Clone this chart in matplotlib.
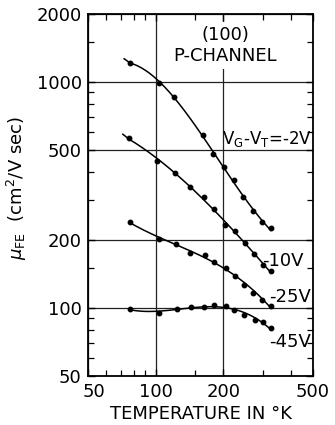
import numpy as np
import matplotlib
matplotlib.use("Agg")
import matplotlib.pyplot as plt
from matplotlib.ticker import FixedLocator, FixedFormatter, LogLocator, NullFormatter
from matplotlib.transforms import ScaledTranslation

plt.rcParams["font.family"] = ["DejaVu Sans"]
plt.rcParams["mathtext.fontset"] = "dejavusans"

# Field-effect mobility vs temperature, (100) p-channel, for several gate overdrives
temp_2v = [77, 103, 121, 162, 180, 201, 223, 244, 270, 296, 325]
mu_2v = [1220, 990, 860, 580, 482, 421, 368, 311, 268, 241, 225]

temp_10v = [76, 101, 122, 142, 164, 182, 203, 224, 249, 273, 300, 325]
mu_10v = [564, 449, 397, 342, 310, 275, 234, 219, 193, 173, 155, 146]

temp_25v = [77, 103, 123, 142, 166, 182, 206, 224, 248, 271, 298, 325]
mu_25v = [240, 202, 191, 176, 172, 160, 150, 139, 127, 117, 108.6, 102.4]

temp_45v = [77, 103, 124, 143, 164, 182, 206, 223, 248, 276, 300, 325]
mu_45v = [99, 94.6, 98.8, 100.6, 101.3, 102.8, 102.5, 98, 93, 88.5, 86.3, 81.4]

series_labels = ["-2V", "-10V", "-25V", "-45V"]

x_ticks = [50, 100, 200, 500]
x_tick_labels = ["50", "100", "200", "500"]
y_ticks = [50, 100, 200, 500, 1000, 2000]
y_tick_labels = ["50", "100", "200", "500", "1000", "2000"]

FS = 13

fig = plt.figure(figsize=(3.35, 4.25), dpi=100)
ax = fig.add_axes([88 / 335, 1 - 376 / 425, 225 / 335, 362 / 425])
ax.set_xscale("log")
ax.set_yscale("log")
ax.set_xlim(50, 500)
ax.set_ylim(50, 2000)

# smooth curves: cubic fit in log-log space, with a short straight lead-in
lead_in = [0.94, 0.94, 1.0, 1.0]
all_series = [(temp_2v, mu_2v), (temp_10v, mu_10v), (temp_25v, mu_25v), (temp_45v, mu_45v)]
for (t, m), s in zip(all_series, lead_in):
    lt, lm = np.log10(t), np.log10(m)
    coef = np.polyfit(lt, lm, 3)
    tt = np.linspace(lt[0], lt[-1], 200)
    yy = np.polyval(coef, tt)
    if s < 1.0:
        slope = (lm[1] - lm[0]) / (lt[1] - lt[0])
        t0 = lt[0] + np.log10(s)
        tt = np.concatenate([[t0], tt])
        yy = np.concatenate([[yy[0] + slope * (t0 - lt[0])], yy])
    ax.plot(10 ** tt, 10 ** yy, color="black", lw=1.1, zorder=3)
    ax.plot(t, m, "o", color="black", ms=3.2, zorder=4)

ax.xaxis.set_major_locator(FixedLocator(x_ticks))
ax.xaxis.set_major_formatter(FixedFormatter(x_tick_labels))
ax.yaxis.set_major_locator(FixedLocator(y_ticks))
ax.yaxis.set_major_formatter(FixedFormatter(y_tick_labels))
subs = [1.5, 3, 4, 6, 7, 8, 9]
ax.xaxis.set_minor_locator(LogLocator(base=10, subs=subs))
ax.yaxis.set_minor_locator(LogLocator(base=10, subs=subs))
ax.xaxis.set_minor_formatter(NullFormatter())
ax.yaxis.set_minor_formatter(NullFormatter())

ax.tick_params(which="both", direction="in", top=True, right=True,
               color="black", labelsize=FS)
ax.tick_params(which="major", length=5, width=1.0)
ax.tick_params(which="minor", length=4, width=0.9)
ax.tick_params(axis="x", pad=5)
ax.tick_params(axis="y", pad=4.5)

ax.grid(True, which="major", color="#222222", lw=0.9, zorder=1)
for sp in ax.spines.values():
    sp.set_linewidth(1.3)
    sp.set_color("black")

# nudge the leftmost x label off the corner
fig.canvas.draw()
lbl = ax.get_xticklabels()[0]
lbl.set_transform(lbl.get_transform() + ScaledTranslation(6 / 100, 0, fig.dpi_scale_trans))

ax.text(0.61, 0.913, "(100)\nP-CHANNEL", transform=ax.transAxes,
        ha="center", va="center", fontsize=FS, linespacing=1.2,
        bbox=dict(facecolor="white", edgecolor="none", pad=3), zorder=5)

ax.text(0.995, 0.655, "V$_\\mathregular{G}$-V$_\\mathregular{T}$=-2V", transform=ax.transAxes,
        ha="right", va="center", fontsize=12, zorder=5)
label_pos = [(0.958, 0.318), (0.99, 0.218), (0.99, 0.094)]
for txt, (px, py) in zip(series_labels[1:], label_pos):
    ax.text(px, py, txt, transform=ax.transAxes, ha="right", va="center",
            fontsize=FS, zorder=5)

ax.set_xlabel("TEMPERATURE IN °K", fontsize=FS, labelpad=3)
fig.text(0.05, 1 - 188 / 425, r"$\mu_{\mathregular{FE}}$  (cm$^\mathregular{2}$/V sec)",
         rotation=90, ha="center", va="center", fontsize=FS)

fig.savefig("out.png", dpi=100)
